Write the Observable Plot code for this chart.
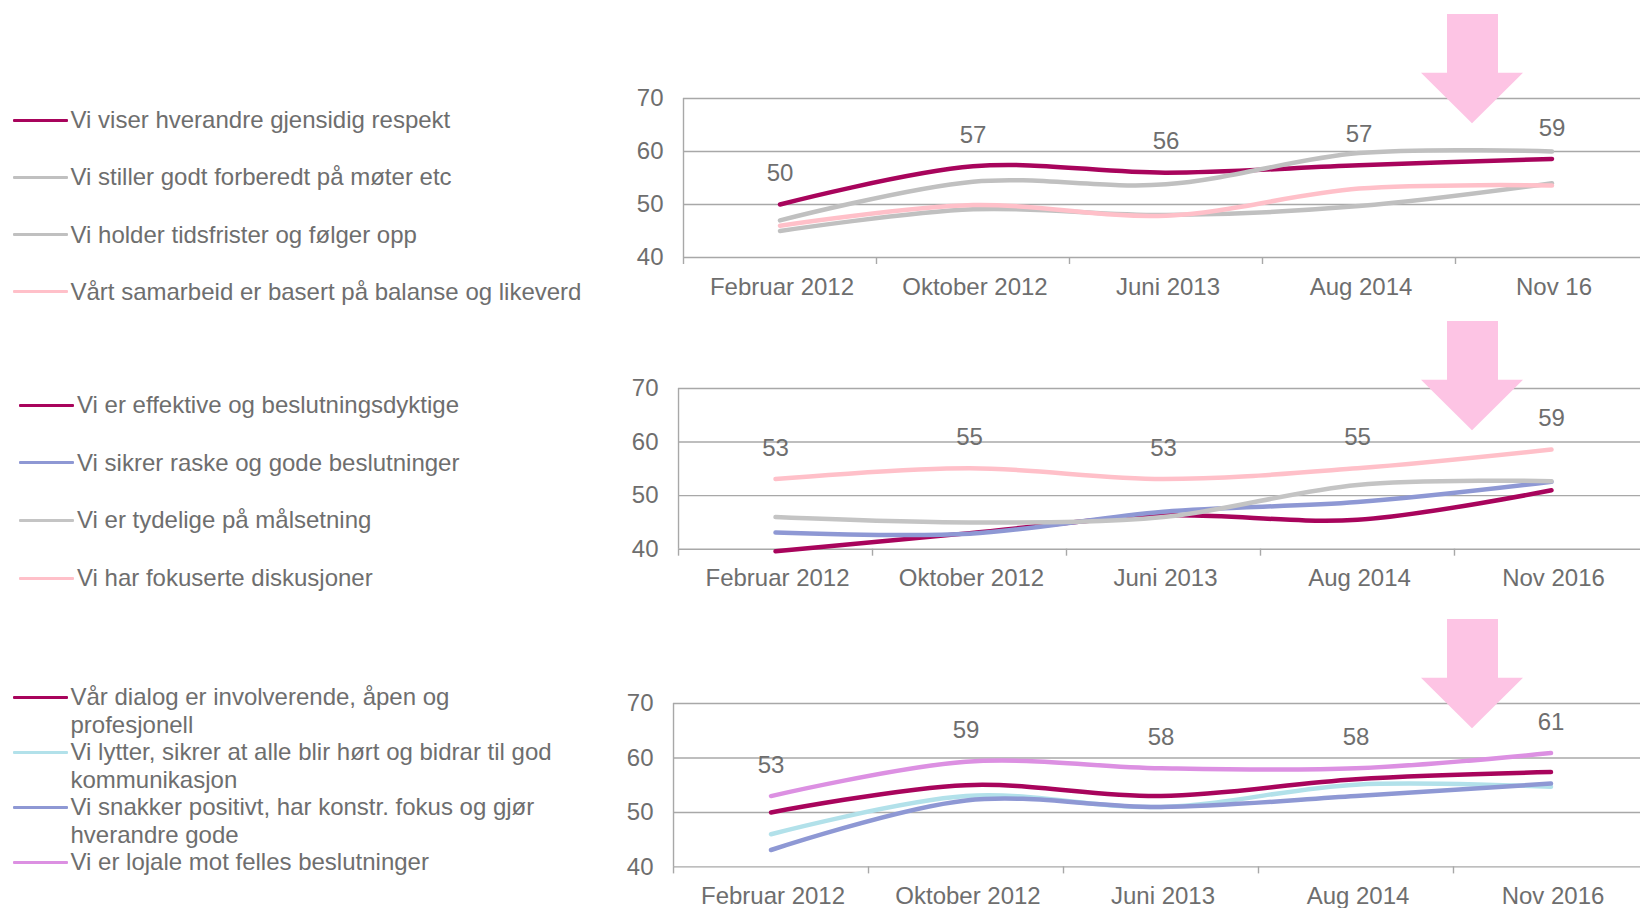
<!DOCTYPE html>
<html><head><meta charset="utf-8">
<script src="https://cdn.jsdelivr.net/npm/d3@7"></script>
<script src="https://cdn.jsdelivr.net/npm/@observablehq/plot@0.6"></script>
<style>
html,body{margin:0;padding:0;background:#fff}
body{width:1640px;height:908px;overflow:hidden;position:relative;font-family:"Liberation Sans",Arial,sans-serif;color:#6e6e6e}
.panel{position:absolute;left:600px;width:1048px}
.panel svg{overflow:visible;max-width:none !important}
.legend{position:absolute;left:12.5px;font-size:24px}
.item{display:flex;align-items:flex-start}
.swatch{width:55px;height:3px;flex:none;border-radius:1px}
.label{margin-left:3px}
#arrows{position:absolute;left:0;top:0;pointer-events:none}
</style></head><body>
<script>
// ---------- data ----------
const periodsA = ["Februar 2012", "Oktober 2012", "Juni 2013", "Aug 2014", "Nov 16"];
const periodsB = ["Februar 2012", "Oktober 2012", "Juni 2013", "Aug 2014", "Nov 2016"];
const yTicks = [40, 50, 60, 70];

// Panel 1
const p1Names = ["Vi viser hverandre gjensidig respekt", "Vi stiller godt forberedt på møter etc", "Vi holder tidsfrister og følger opp", "Vårt samarbeid er basert på balanse og likeverd"];
const p1Colors = ["#a8045c", "#c0c0c0", "#c0c0c0", "#ffc0c9"];
const p1Respekt = [50, 57.2, 56.0, 57.4, 58.6];
const p1Forberedt = [47.0, 54.3, 53.8, 59.7, 60.0];
const p1Tidsfrister = [45.0, 49.1, 48.0, 49.7, 54.0];
const p1Samarbeid = [46.0, 49.9, 47.9, 53.0, 53.6];

// Panel 2
const p2Names = ["Vi er effektive og beslutningsdyktige", "Vi sikrer raske og gode beslutninger", "Vi er tydelige på målsetning", "Vi har fokuserte diskusjoner"];
const p2Colors = ["#a8045c", "#8e98d4", "#c4c4c4", "#ffc0c9"];
const p2Effektive = [39.6, 43.0, 46.3, 45.5, 51.0];
const p2Raske = [43.1, 42.9, 47.0, 48.8, 52.6];
const p2Tydelige = [46.0, 45.0, 46.0, 52.0, 52.7];
const p2Fokuserte = [53.1, 55.1, 53.1, 55.1, 58.6];

// Panel 3
const p3Names = ["Vår dialog er involverende, åpen og profesjonell", "Vi lytter, sikrer at alle blir hørt og bidrar til god kommunikasjon", "Vi snakker positivt, har konstr. fokus og gjør hverandre gode", "Vi er lojale mot felles beslutninger"];
const p3Colors = ["#a8045c", "#b2e1ea", "#8e98d4", "#dc90e2"];
const p3Dialog = [50.0, 55.0, 53.0, 56.1, 57.4];
const p3Lytter = [46.0, 53.0, 51.0, 55.1, 54.7];
const p3Positivt = [43.1, 52.2, 51.0, 53.0, 55.3];
const p3Lojale = [53.0, 59.3, 58.1, 58.1, 60.9];

// ---------- drawing ----------
const textColor = "#6e6e6e";
const gridColor = "#a8a8a8";

function drawPanel({periods, names, colors, values, labelIndex, axisX, y70, y40}) {
  const rows = values.flatMap((vals, k) => vals.map((v, i) => ({i, v, name: names[k], color: colors[k]})));
  const labelRows = values[labelIndex].map((v, i) => ({i, v}));
  const mt = 40, mb = 50;
  const svg = Plot.plot({
    width: 1048,
    height: mt + (y40 - y70) + mb,
    marginTop: mt, marginBottom: mb, marginLeft: axisX - 600, marginRight: 0,
    x: {domain: [-0.5, 4.5], axis: null, label: null},
    y: {domain: [40, 70], axis: null, label: null},
    color: {type: "identity"},
    style: {fontFamily: "'Liberation Sans', Arial, sans-serif", fontSize: "24px", color: textColor, background: "transparent", overflow: "visible", maxWidth: "none"},
    marks: [
      Plot.ruleY(yTicks, {stroke: gridColor, strokeWidth: 1.4, strokeOpacity: 1}),
      Plot.ruleX([-0.5], {y1: 40, y2: 70, stroke: gridColor, strokeWidth: 1.4, strokeOpacity: 1}),
      Plot.axisX([-0.5, 0.5, 1.5, 2.5, 3.5], {tickSize: 7, tickFormat: () => "", label: null, stroke: gridColor, strokeWidth: 1.4, strokeOpacity: 1}),
      Plot.axisX([0, 1, 2, 3, 4], {tickSize: 0, tickPadding: 20, label: null, tickFormat: i => periods[i], fill: textColor, fontSize: 24, dx: 2}),
      Plot.axisY(yTicks, {tickSize: 0, tickPadding: 20, label: null, fill: textColor, fontSize: 24}),
      Plot.line(rows, {x: "i", y: "v", z: "name", stroke: "color", strokeWidth: 4.5, curve: "catmull-rom", strokeLinecap: "round"}),
      Plot.text(labelRows, {x: "i", y: "v", text: d => String(Math.round(d.v)), dy: -31, fill: textColor, fontSize: 24})
    ]
  });
  const div = document.createElement("div");
  div.className = "panel";
  div.style.top = (y70 - mt) + "px";
  div.appendChild(svg);
  document.body.appendChild(div);
}

function drawLegend({names, colors, left, firstCenter, lineHeight, spacing, textWidth}) {
  const lg = document.createElement("div");
  lg.className = "legend";
  lg.style.left = left + "px";
  lg.style.top = (firstCenter - lineHeight / 2) + "px";
  lg.style.lineHeight = lineHeight + "px";
  names.forEach((n, k) => {
    const it = document.createElement("div");
    it.className = "item";
    if (spacing) it.style.height = spacing + "px";
    const sw = document.createElement("div");
    sw.className = "swatch";
    sw.style.background = colors[k];
    sw.style.marginTop = (lineHeight / 2 - 1.5) + "px";
    const tx = document.createElement("div");
    tx.className = "label";
    if (textWidth) tx.style.width = textWidth + "px"; else tx.style.whiteSpace = "nowrap";
    tx.textContent = n;
    it.appendChild(sw); it.appendChild(tx);
    lg.appendChild(it);
  });
  document.body.appendChild(lg);
}

drawPanel({periods: periodsA, names: p1Names, colors: p1Colors, values: [p1Respekt, p1Forberedt, p1Tidsfrister, p1Samarbeid], labelIndex: 0, axisX: 683, y70: 98.3, y40: 257.3});
drawPanel({periods: periodsB, names: p2Names, colors: p2Colors, values: [p2Effektive, p2Raske, p2Tydelige, p2Fokuserte], labelIndex: 3, axisX: 678, y70: 388.3, y40: 549});
drawPanel({periods: periodsB, names: p3Names, colors: p3Colors, values: [p3Dialog, p3Lytter, p3Positivt, p3Lojale], labelIndex: 3, axisX: 673, y70: 703.3, y40: 866.7});

drawLegend({names: p1Names, colors: p1Colors, left: 12.5, firstCenter: 120, lineHeight: 28, spacing: 57.3});
drawLegend({names: p2Names, colors: p2Colors, left: 19, firstCenter: 405, lineHeight: 28, spacing: 57.7});
drawLegend({names: p3Names, colors: p3Colors, left: 12.5, firstCenter: 697, lineHeight: 27.5, spacing: 0, textWidth: 495});

// decorative arrows (annotation overlay)
const arrowTops = [14, 321, 619];
const ns = "http://www.w3.org/2000/svg";
const ov = document.createElementNS(ns, "svg");
ov.setAttribute("id", "arrows");
ov.setAttribute("width", 1640); ov.setAttribute("height", 908);
arrowTops.forEach(t => {
  const p = document.createElementNS(ns, "polygon");
  const pts = [[1447, t], [1498, t], [1498, t + 58.7], [1523, t + 58.7], [1472, t + 109.3], [1421, t + 58.7], [1447, t + 58.7]];
  p.setAttribute("points", pts.map(d => d.join(",")).join(" "));
  p.setAttribute("fill", "#fdc4e4");
  ov.appendChild(p);
});
document.body.appendChild(ov);
</script>
</body></html>
